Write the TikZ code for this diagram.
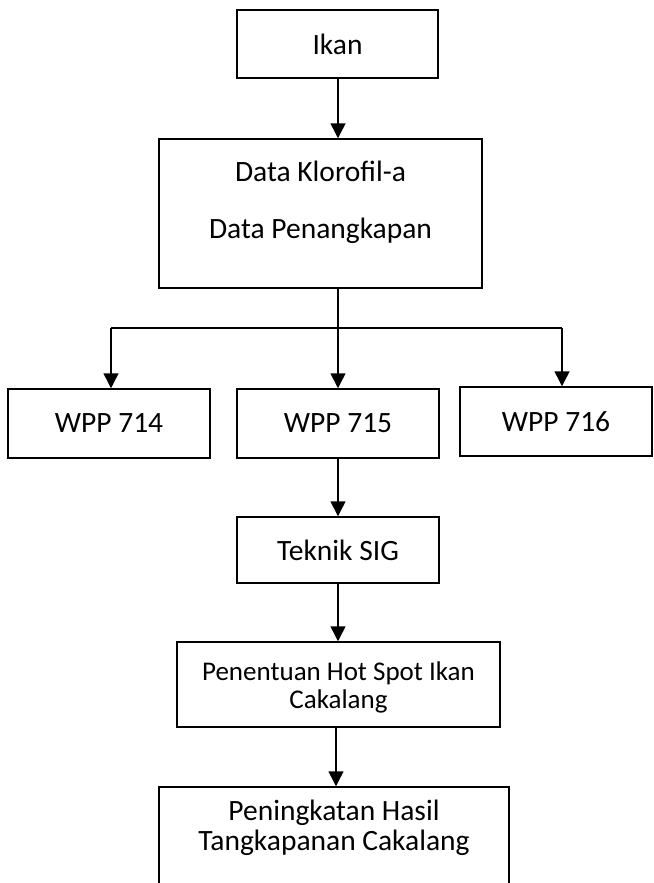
\documentclass[tikz,border=0pt]{standalone}
\usepackage{fontspec}
\setmainfont{Carlito}
\usetikzlibrary{arrows.meta,calc}
\tikzset{
  box/.style={draw=black, line width=1.5pt, fill=white, inner sep=0pt, align=center,
    font=\fontsize{29.5}{31}\selectfont},
  arr/.style={draw=black, line width=1.5pt, -{Triangle[width=15pt,length=15pt]}},
  ln/.style={draw=black, line width=1.5pt},
  lbl/.style={align=center, inner sep=0pt}
}
\begin{document}
\begin{tikzpicture}[x=1pt,y=-1pt]
\clip (0,0) rectangle (653,883);
\fill[white] (0,0) rectangle (653,883);
% boxes
\node[box, minimum width=201pt, minimum height=68pt] (ikan) at (337.5,44) {Ikan};
\node[box, minimum width=323pt, minimum height=149pt,
  label={[name=dataT, lbl, font=\fontsize{29.5}{57}\selectfont, yshift=11pt]center:Data Klorofil-a\\Data Penangkapan}] (data) at (320.5,213.5) {};
\node[box, minimum width=202pt, minimum height=69pt] (w714) at (109,423.5) {WPP 714};
\node[box, minimum width=202pt, minimum height=69pt] (w715) at (338,423.5) {WPP 715};
\node[box, minimum width=192pt, minimum height=69pt] (w716) at (556,421.5) {WPP 716};
\node[box, minimum width=202pt, minimum height=66pt] (sig) at (338,550) {Teknik SIG};
\node[box, minimum width=323pt, minimum height=85pt,
  label={[name=hotT, lbl, font=\fontsize{27}{28}\selectfont, yshift=-2.5pt]center:Penentuan Hot Spot Ikan\\Cakalang}] (hot) at (338.5,684.5) {};
\node[box, minimum width=350pt, minimum height=118pt,
  label={[name=hasilT, lbl, font=\fontsize{29.5}{30}\selectfont, yshift=18pt]center:Peningkatan Hasil\\Tangkapanan Cakalang}] (hasil) at (334,846) {};
% junction coordinates
\coordinate (jm) at (338,328);
\coordinate (jl) at (111,328);
\coordinate (jr) at (562,328);
\coordinate (jb) at (336,0);
% connectors
\draw[arr] (ikan.south -| jm) -- (jm |- data.north);
\draw[ln] (data.south -| jm) -- (jm);
\draw[ln] (jl) -- (jr);
\draw[arr] (jl) -- (jl |- w714.north);
\draw[arr] (jm) -- (jm |- w715.north);
\draw[arr] (jr) -- (jr |- w716.north);
\draw[arr] (w715.south -| jm) -- (jm |- sig.north);
\draw[arr] (sig.south -| jm) -- (jm |- hot.north);
\draw[arr] (hot.south -| jb) -- (jb |- hasil.north);
\end{tikzpicture}
\end{document}
